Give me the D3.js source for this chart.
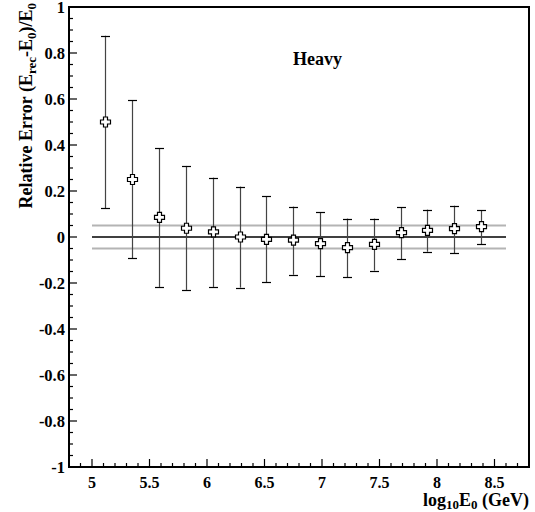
<!DOCTYPE html>
<html><head><meta charset="utf-8">
<script src="https://cdn.jsdelivr.net/npm/d3@7"></script>
<style>body{margin:0;background:#fff}svg{display:block}</style>
</head><body>
<svg id="c" width="535" height="512"></svg>
<script>
const xCenters = [5.117, 5.35, 5.583, 5.817, 6.05, 6.283, 6.517, 6.75, 6.983, 7.217, 7.45, 7.683, 7.917, 8.15, 8.383];
const yValues  = [0.50, 0.25, 0.085, 0.038, 0.022, 0.0, -0.01, -0.014, -0.029, -0.046, -0.032, 0.019, 0.029, 0.036, 0.045];
const yHigh    = [0.875, 0.594, 0.386, 0.309, 0.258, 0.219, 0.177, 0.132, 0.107, 0.080, 0.080, 0.129, 0.119, 0.136, 0.117];
const yLow     = [0.125, -0.093, -0.217, -0.230, -0.217, -0.220, -0.197, -0.164, -0.170, -0.174, -0.146, -0.097, -0.064, -0.070, -0.032];
const xTickLabels = [5, 5.5, 6, 6.5, 7, 7.5, 8, 8.5];
const yTickLabels = [-1, -0.8, -0.6, -0.4, -0.2, 0, 0.2, 0.4, 0.6, 0.8, 1];
const refLines = [-0.05, 0, 0.05];
const refRange = [5.0, 8.6];

const L = 69, T = 7, W = 460, H = 460;
const x = d3.scaleLinear().domain([4.8, 8.8]).range([L, L + W]);
const y = d3.scaleLinear().domain([-1, 1]).range([T + H, T]);
const svg = d3.select("#c");
const font = "'Liberation Serif', 'Times New Roman', serif";

// reference lines
svg.selectAll("line.ref").data(refLines).join("line")
  .attr("x1", x(refRange[0])).attr("x2", x(refRange[1]))
  .attr("y1", d => y(d)).attr("y2", d => y(d))
  .attr("stroke", d => d === 0 ? "#000" : "#b4b4b4")
  .attr("stroke-width", d => d === 0 ? 1.5 : 2);

// error bars
const g = svg.append("g");
xCenters.forEach((xv, i) => {
  const cx = Math.round(x(xv)) + 0.5;
  g.append("line").attr("x1", cx).attr("x2", cx)
    .attr("y1", y(yLow[i])).attr("y2", y(yHigh[i]))
    .attr("stroke", "#444").attr("stroke-width", 1.2);
  [yLow[i], yHigh[i]].forEach(v => {
    g.append("line").attr("x1", cx - 4.5).attr("x2", cx + 4.5)
      .attr("y1", Math.round(y(v)) + 0.5).attr("y2", Math.round(y(v)) + 0.5)
      .attr("stroke", "#000").attr("stroke-width", 1.2);
  });
});
// markers (open cross)
const a = 2, l = 5;
const cross = `M${-a},${-l}H${a}V${-a}H${l}V${a}H${a}V${l}H${-a}V${a}H${-l}V${-a}H${-a}Z`;
svg.selectAll("path.m").data(xCenters).join("path")
  .attr("d", cross)
  .attr("transform", (d, i) => `translate(${Math.round(x(d)) + 0.5},${y(yValues[i])})`)
  .attr("fill", "#fff").attr("stroke", "#000").attr("stroke-width", 1.2);

// frame
svg.append("rect").attr("x", L).attr("y", T).attr("width", W).attr("height", H)
  .attr("fill", "none").attr("stroke", "#000").attr("stroke-width", 2);

// x axis ticks
const xMinor = d3.range(49, 88).map(v => v / 10);
svg.selectAll("line.xt").data(xMinor).join("line")
  .attr("x1", d => x(d)).attr("x2", d => x(d))
  .attr("y1", T + H).attr("y2", d => T + H - (Math.abs(d * 2 - Math.round(d * 2)) < 1e-6 ? 8 : 4))
  .attr("stroke", "#000").attr("stroke-width", 1.2);
svg.selectAll("text.xl").data(xTickLabels).join("text")
  .attr("x", d => x(d)).attr("y", 488).attr("text-anchor", "middle")
  .attr("font-family", font).attr("font-weight", "bold").attr("font-size", 16)
  .text(d => d);

// y axis ticks
const yMinor = d3.range(-20, 21).map(v => v * 0.05);
svg.selectAll("line.yt").data(yMinor).join("line")
  .attr("y1", d => y(d)).attr("y2", d => y(d))
  .attr("x1", L).attr("x2", (d, i) => L + ((i % 4 === 0) ? 8 : 4))
  .attr("stroke", "#000").attr("stroke-width", 1.2);
svg.selectAll("text.yl").data(yTickLabels).join("text")
  .attr("x", 65).attr("y", d => y(d) + 6).attr("text-anchor", "end")
  .attr("font-family", font).attr("font-weight", "bold").attr("font-size", 16.5)
  .text(d => d);

// x title
const xt = svg.append("text").attr("x", 529).attr("y", 506).attr("text-anchor", "end")
  .attr("font-family", font).attr("font-weight", "bold").attr("font-size", 18);
xt.append("tspan").text("log");
xt.append("tspan").attr("dy", 3).attr("font-size", 13).text("10");
xt.append("tspan").attr("dy", -3).text("E");
xt.append("tspan").attr("dy", 3).attr("font-size", 13).text("0");
xt.append("tspan").attr("dy", -3).text(" (GeV)");

// y title
const yt = svg.append("text").attr("transform", "translate(32,3) rotate(-90)").attr("text-anchor", "end")
  .attr("font-family", font).attr("font-weight", "bold").attr("font-size", 18);
yt.append("tspan").text("Relative Error (E");
yt.append("tspan").attr("dy", 4).attr("font-size", 13).text("rec");
yt.append("tspan").attr("dy", -4).text("-E");
yt.append("tspan").attr("dy", 4).attr("font-size", 13).text("0");
yt.append("tspan").attr("dy", -4).text(")/E");
yt.append("tspan").attr("dy", 4).attr("font-size", 13).text("0");

// label
svg.append("text").attr("x", 293).attr("y", 65)
  .attr("font-family", font).attr("font-weight", "bold").attr("font-size", 18)
  .text("Heavy");
</script>
</body></html>
